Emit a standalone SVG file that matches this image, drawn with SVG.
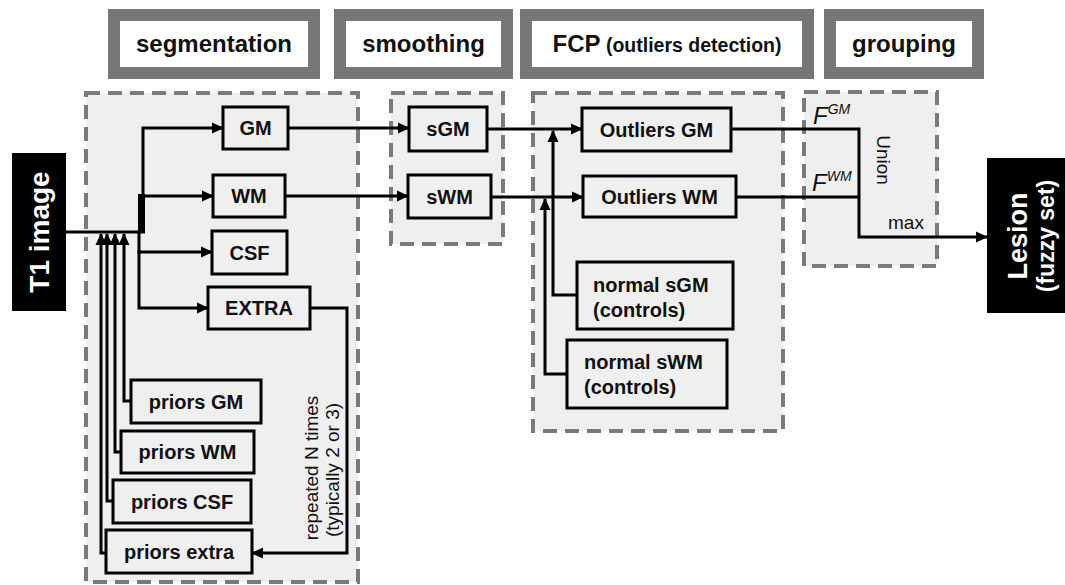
<svg xmlns="http://www.w3.org/2000/svg" width="1065" height="585" viewBox="0 0 1065 585">
  <style>
    .hdr { fill: #ffffff; stroke: #777777; stroke-width: 12; }
    .stage { fill: #efefef; stroke: #7a7a7a; stroke-width: 4; stroke-dasharray: 14 8; }
    .box { fill: none; stroke: #000000; stroke-width: 3; }
    .lbl { font-family: "Liberation Sans", Arial, sans-serif; font-weight: bold; font-size: 20px; fill: #111111; }
    .hlbl { font-family: "Liberation Sans", Arial, sans-serif; font-weight: bold; font-size: 24px; fill: #111111; text-anchor: middle; }
    .note { font-family: "Liberation Sans", Arial, sans-serif; font-size: 19px; fill: #111111; }
    .wire { fill: none; stroke: #000000; stroke-width: 3; }
    .wlbl { font-family: "Liberation Sans", Arial, sans-serif; font-weight: bold; fill: #ffffff; text-anchor: middle; }
    .mid { text-anchor: middle; }
  </style>
  <defs>
    <marker id="arr" viewBox="0 0 12 12" refX="11" refY="6" markerWidth="12" markerHeight="12" markerUnits="userSpaceOnUse" orient="auto">
      <path d="M0,0.5 L12,6 L0,11.5 Z" fill="#000000"/>
    </marker>
  </defs>

  <rect width="1065" height="585" fill="#ffffff"/>

  <!-- stage headers -->
  <g id="hdr-segmentation">
    <rect class="hdr" x="114" y="15" width="200" height="58"/>
    <text class="hlbl" x="214" y="52">segmentation</text>
  </g>
  <g id="hdr-smoothing">
    <rect class="hdr" x="340" y="15" width="167" height="58"/>
    <text class="hlbl" x="423.5" y="52">smoothing</text>
  </g>
  <g id="hdr-fcp">
    <rect class="hdr" x="526" y="15" width="282" height="58"/>
    <text class="hlbl" x="667" y="52">FCP<tspan font-size="19.5"> (outliers detection)</tspan></text>
  </g>
  <g id="hdr-grouping">
    <rect class="hdr" x="830" y="15" width="148" height="58"/>
    <text class="hlbl" x="904" y="52">grouping</text>
  </g>

  <!-- dashed stage areas -->
  <g id="stage-segmentation"><rect class="stage" x="86" y="93" width="272" height="489"/></g>
  <g id="stage-smoothing"><rect class="stage" x="391" y="93" width="112" height="151"/></g>
  <g id="stage-fcp"><rect class="stage" x="533" y="93" width="250" height="338"/></g>
  <g id="stage-grouping"><rect class="stage" x="804" y="92" width="133" height="174"/></g>

  <!-- input and output -->
  <g id="t1-image">
    <rect x="12" y="153" width="54" height="158" fill="#000000"/>
    <text class="wlbl" font-size="28" transform="translate(49,232) rotate(-90)">T1 image</text>
  </g>
  <g id="lesion">
    <rect x="987" y="158" width="78" height="155" fill="#000000"/>
    <text class="wlbl" font-size="27" transform="translate(1027,236) rotate(-90)">Lesion</text>
    <text class="wlbl" font-size="23" transform="translate(1054,236) rotate(-90)">(fuzzy set)</text>
  </g>

  <!-- segmentation nodes -->
  <g id="gm"><rect class="box" x="223" y="107" width="65" height="42"/><text class="lbl mid" x="255.5" y="135">GM</text></g>
  <g id="wm"><rect class="box" x="213" y="175" width="72" height="42"/><text class="lbl mid" x="249" y="203">WM</text></g>
  <g id="csf"><rect class="box" x="212" y="231" width="75" height="43"/><text class="lbl mid" x="249.5" y="259.5">CSF</text></g>
  <g id="extra"><rect class="box" x="208" y="287" width="102" height="42"/><text class="lbl mid" x="259" y="315">EXTRA</text></g>
  <g id="priors-gm"><rect class="box" x="131" y="380" width="130" height="43"/><text class="lbl mid" x="196" y="408.5">priors GM</text></g>
  <g id="priors-wm"><rect class="box" x="121" y="431" width="133" height="42"/><text class="lbl mid" x="187.5" y="459">priors WM</text></g>
  <g id="priors-csf"><rect class="box" x="113" y="480" width="138" height="43"/><text class="lbl mid" x="182" y="508.5">priors CSF</text></g>
  <g id="priors-extra"><rect class="box" x="106" y="530" width="146" height="43"/><text class="lbl mid" x="179" y="558.5">priors extra</text></g>

  <!-- smoothing nodes -->
  <g id="sgm"><rect class="box" x="409" y="107" width="78" height="44"/><text class="lbl mid" x="448" y="136">sGM</text></g>
  <g id="swm"><rect class="box" x="408" y="175" width="83" height="43"/><text class="lbl mid" x="449.5" y="203.5">sWM</text></g>

  <!-- FCP nodes -->
  <g id="outliers-gm"><rect class="box" x="582" y="108" width="149" height="43"/><text class="lbl mid" x="656.5" y="136.5">Outliers GM</text></g>
  <g id="outliers-wm"><rect class="box" x="583" y="176" width="153" height="41"/><text class="lbl mid" x="659.5" y="203.5">Outliers WM</text></g>
  <g id="normal-sgm">
    <rect class="box" x="577" y="262" width="156" height="67"/>
    <text class="lbl" x="593" y="292">normal sGM</text>
    <text class="lbl" x="593" y="317">(controls)</text>
  </g>
  <g id="normal-swm">
    <rect class="box" x="567" y="340" width="160" height="68"/>
    <text class="lbl" x="584" y="369">normal sWM</text>
    <text class="lbl" x="584" y="394">(controls)</text>
  </g>

  <!-- connectors -->
  <g id="connectors">
    <path class="wire" d="M66,232 H145"/>
    <rect x="138" y="194" width="7" height="39" fill="#000000"/>
    <path class="wire" d="M143,232 V128 H223" marker-end="url(#arr)"/>
    <path class="wire" d="M143,196 H213" marker-end="url(#arr)"/>
    <path class="wire" d="M139,232 V252 H212" marker-end="url(#arr)"/>
    <path class="wire" d="M139,250 V308 H208" marker-end="url(#arr)"/>

    <path class="wire" d="M131,401 H124 V234" marker-end="url(#arr)"/>
    <path class="wire" d="M121,452 H115 V234" marker-end="url(#arr)"/>
    <path class="wire" d="M113,501 H107 V234" marker-end="url(#arr)"/>
    <path class="wire" d="M106,553 H101 V234" marker-end="url(#arr)"/>

    <path class="wire" d="M310,308 H347 V553 H252" marker-end="url(#arr)"/>

    <path class="wire" d="M288,128 H409" marker-end="url(#arr)"/>
    <path class="wire" d="M285,196 H408" marker-end="url(#arr)"/>
    <path class="wire" d="M487,129 H582" marker-end="url(#arr)"/>
    <path class="wire" d="M491,197 H583" marker-end="url(#arr)"/>

    <path class="wire" d="M577,295 H553 V131" marker-end="url(#arr)"/>
    <path class="wire" d="M567,374 H545 V199" marker-end="url(#arr)"/>

    <path class="wire" d="M731,129 H859 V237 H987" marker-end="url(#arr)"/>
    <path class="wire" d="M736,197 H859"/>
  </g>

  <!-- connector labels -->
  <text class="note" transform="translate(318,468) rotate(-90)" text-anchor="middle">repeated N times</text>
  <text class="note" transform="translate(339,470) rotate(-90)" text-anchor="middle">(typically 2 or 3)</text>
  <text font-family="Liberation Sans, Arial, sans-serif" font-style="italic" font-size="24" fill="#111111" x="813" y="124">F<tspan font-size="14" dy="-10">GM</tspan></text>
  <text font-family="Liberation Sans, Arial, sans-serif" font-style="italic" font-size="24" fill="#111111" x="812" y="191">F<tspan font-size="14" dy="-10">WM</tspan></text>
  <text class="note" font-size="21" transform="translate(877,160) rotate(90)" text-anchor="middle">Union</text>
  <text class="note" font-size="20" x="906" y="229" text-anchor="middle">max</text>
</svg>
